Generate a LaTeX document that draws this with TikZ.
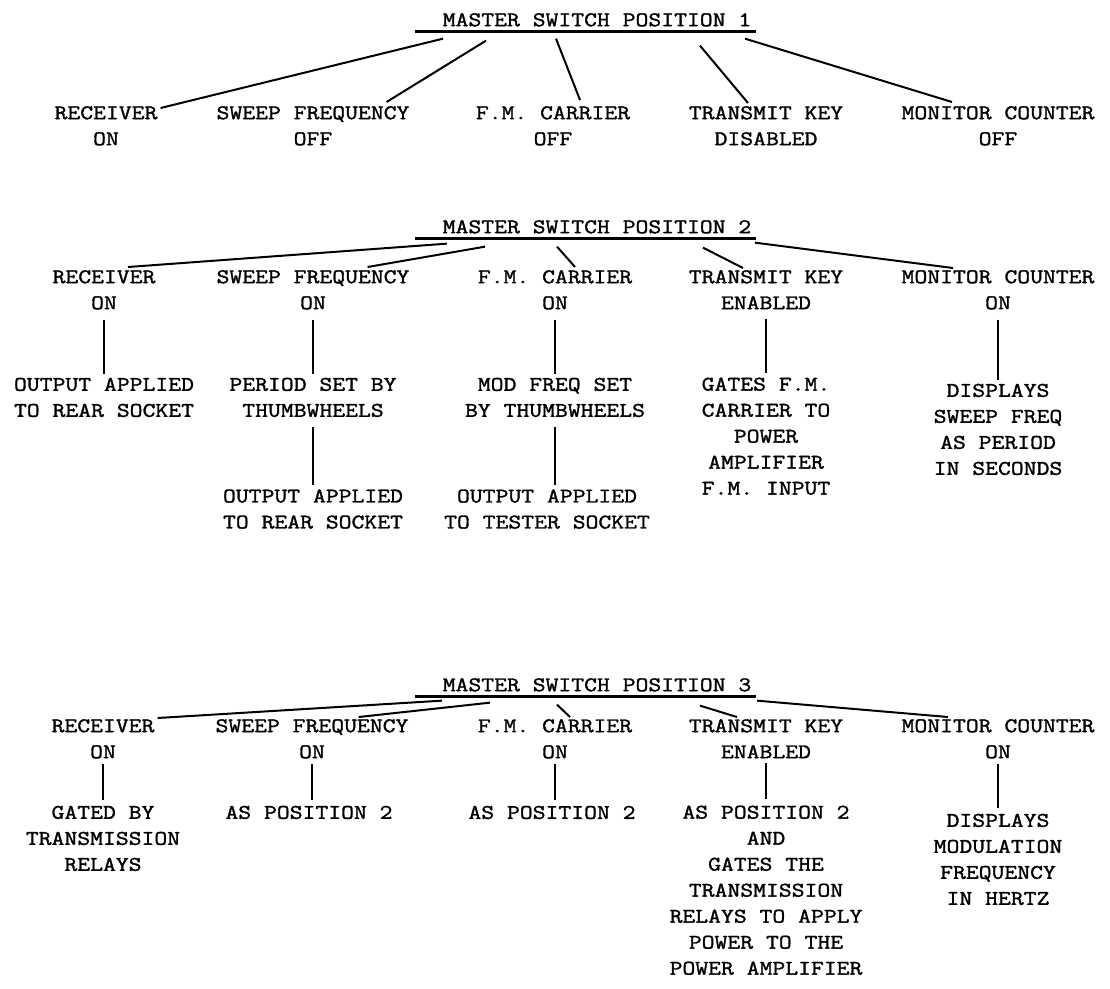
\documentclass[tikz,border=0pt]{standalone}
\usepackage{fontspec}
\setmonofont{Latin Modern Mono}[FakeStretch=1.2,FakeBold=1.5]
\usepackage{tikz}
\usetikzlibrary{positioning,calc}
\tikzset{
  typed/.style={font=\ttfamily\fontsize{20.8}{26}\selectfont, align=center, inner sep=0pt, anchor=north},
  master/.style={typed},
  rule/.style={line width=2.4pt},
  wire/.style={line width=2pt},
  drop/.style={wire, shorten <=10pt, shorten >=4pt},
  shortdrop/.style={wire, shorten <=5pt, shorten >=6pt}
}

\begin{document}
\begin{tikzpicture}[x=1pt, y=-1pt, node distance=68pt]
  \useasboundingbox (0,0) rectangle (1110,988);
  % position 1
  \node[master] (m1) at (597,13) {MASTER SWITCH POSITION 1};
  \draw[rule] ($(m1.south west)+(-28,5)$) -- ($(m1.south east)+(5,5)$);
  \node[typed] (rcv1) at (106,106) {RECEIVER\\ON};
  \node[typed] (swp1) at (313,106) {SWEEP FREQUENCY\\OFF};
  \node[typed] (fmc1) at (553,106) {F.M. CARRIER\\OFF};
  \node[typed] (tx1) at (766,106) {TRANSMIT KEY\\DISABLED};
  \node[typed] (mon1) at (998,106) {MONITOR COUNTER\\OFF};
  \draw[wire] ($(m1.south)+(-154,12)$) -- ($(rcv1.north east)+(3,2)$);
  \draw[wire] ($(m1.south)+(-111,14)$) -- ($(swp1.north east)+(-23,-4)$);
  \draw[wire] ($(m1.south)+(-41,12)$) -- ($(fmc1.north)+(27,-6)$);
  \draw[wire] ($(m1.south)+(103,19)$) -- ($(tx1.north)+(-18,-3)$);
  \draw[wire] ($(m1.south)+(148,12)$) -- ($(mon1.north)+(-46,-4)$);

  % position 2
  \node[master] (m2) at (597,220) {MASTER SWITCH POSITION 2};
  \draw[rule] ($(m2.south west)+(-28,5)$) -- ($(m2.south east)+(5,5)$);
  \node[typed] (rcv2) at (104,270) {RECEIVER\\ON};
  \node[typed] (swp2) at (313,270) {SWEEP FREQUENCY\\ON};
  \node[typed] (fmc2) at (555,270) {F.M. CARRIER\\ON};
  \node[typed] (tx2) at (766,270) {TRANSMIT KEY\\ENABLED};
  \node[typed] (mon2) at (998,270) {MONITOR COUNTER\\ON};
  \draw[wire] ($(m2.south)+(-150,10)$) -- ($(rcv2.north)+(24,-3)$);
  \draw[wire] ($(m2.south)+(-112,13)$) -- ($(swp2.north east)+(-42,-3)$);
  \draw[wire] ($(m2.south)+(-40,13)$) -- ($(fmc2.north)+(20,-3)$);
  \draw[wire] ($(m2.south)+(106,14)$) -- ($(tx2.north)+(-23,-2)$);
  \draw[wire] ($(m2.south)+(158,9)$) -- ($(mon2.north)+(-45,-2)$);

  \node[typed, below=of rcv2] (rcv2o) {OUTPUT APPLIED\\TO REAR SOCKET};
  \node[typed, below=of swp2] (swp2o) {PERIOD SET BY\\THUMBWHEELS};
  \node[typed, below=72pt of swp2o] (swp2oo) {OUTPUT APPLIED\\TO REAR SOCKET};
  \node[typed, below=of fmc2] (fmc2o) {MOD FREQ SET\\BY THUMBWHEELS};
  \node[typed, below=72pt of fmc2o, xshift=-8pt] (fmc2oo) {OUTPUT APPLIED\\TO TESTER SOCKET};
  \node[typed, below=of tx2] (tx2o) {GATES F.M.\\CARRIER TO\\POWER\\AMPLIFIER\\F.M. INPUT};
  \node[typed, below=74pt of mon2] (mon2o) {DISPLAYS\\SWEEP FREQ\\AS PERIOD\\IN SECONDS};

  % position 3
  \node[master] (m3) at (597,678) {MASTER SWITCH POSITION 3};
  \draw[rule] ($(m3.south west)+(-28,5)$) -- ($(m3.south east)+(5,5)$);
  \node[typed] (rcv3) at (103,719) {RECEIVER\\ON};
  \node[typed] (swp3) at (312,719) {SWEEP FREQUENCY\\ON};
  \node[typed] (fmc3) at (555,719) {F.M. CARRIER\\ON};
  \node[typed] (tx3) at (766,719) {TRANSMIT KEY\\ENABLED};
  \node[typed] (mon3) at (998,719) {MONITOR COUNTER\\ON};
  \draw[wire] ($(m3.south)+(-155,9)$) -- ($(rcv3.north east)+(3,-1)$);
  \draw[wire] ($(m3.south)+(-107,11)$) -- ($(swp3.north east)+(-50,-2)$);
  \draw[wire] ($(m3.south)+(-40,13)$) -- ($(fmc3.north)+(15,-2)$);
  \draw[wire] ($(m3.south)+(103,14)$) -- ($(tx3.north)+(-29,-2)$);
  \draw[wire] ($(m3.south)+(160,9)$) -- ($(mon3.north)+(-50,-2)$);

  \node[typed, below=47pt of rcv3] (rcv3o) {GATED BY\\TRANSMISSION\\RELAYS};
  \node[typed, below=47pt of swp3, xshift=-3pt] (swp3o) {AS POSITION 2};
  \node[typed, below=47pt of fmc3, xshift=-3pt] (fmc3o) {AS POSITION 2};
  \node[typed, below=47pt of tx3] (tx3o) {AS POSITION 2\\AND\\GATES THE\\TRANSMISSION\\RELAYS TO APPLY\\POWER TO THE\\POWER AMPLIFIER};
  \node[typed, below=55pt of mon3] (mon3o) {DISPLAYS\\MODULATION\\FREQUENCY\\IN HERTZ};

  \foreach \a/\b in {rcv2/rcv2o, swp2/swp2o, swp2o/swp2oo, fmc2/fmc2o, fmc2o/fmc2oo, tx2/tx2o, mon2/mon2o}
    \draw[drop] (\a.south) -- (\a.south |- \b.north);
  \foreach \a/\b in {rcv3/rcv3o, swp3/swp3o, fmc3/fmc3o, tx3/tx3o, mon3/mon3o}
    \draw[shortdrop] (\a.south) -- (\a.south |- \b.north);
\end{tikzpicture}
\end{document}
